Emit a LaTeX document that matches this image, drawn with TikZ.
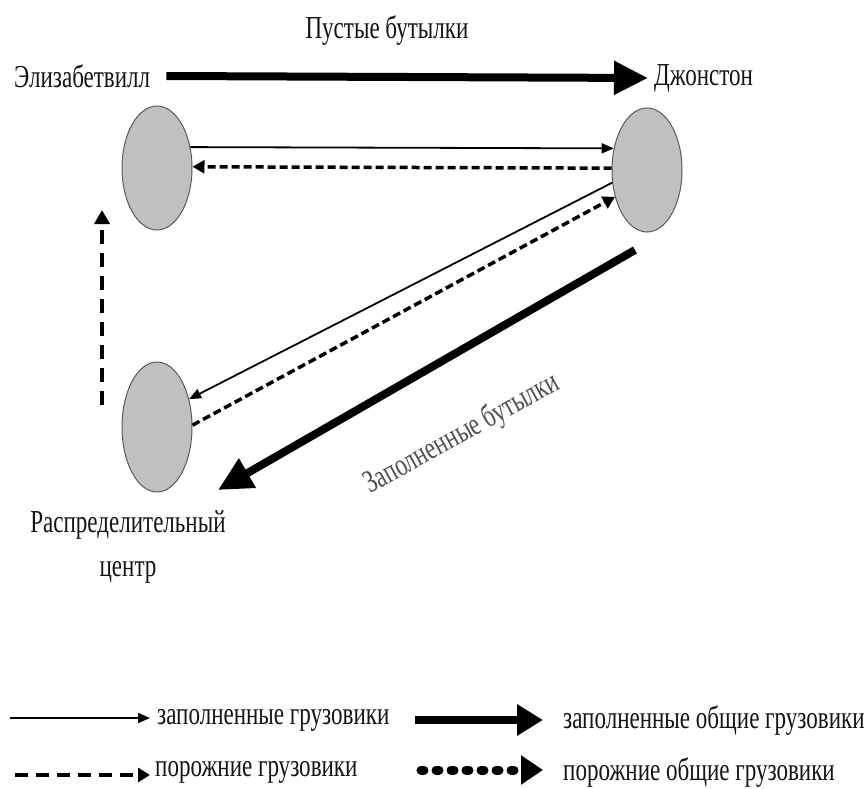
\documentclass[tikz,border=0pt]{standalone}
\usepackage{fontspec}
\setmainfont{Liberation Serif}[FakeStretch=0.72]
\usetikzlibrary{arrows.meta,shapes.geometric}
\definecolor{cfill}{RGB}{192,192,192}
\definecolor{cedge}{RGB}{90,90,90}
\definecolor{ctext}{RGB}{20,20,20}
\definecolor{cgray}{RGB}{80,80,80}
\tikzset{
  hub/.style={ellipse,draw=cedge,line width=1pt,fill=cfill,minimum width=70pt,minimum height=124pt,inner sep=0pt},
  lbl/.style={font=\fontsize{32}{44}\selectfont,text=ctext,inner sep=0pt},
  full/.style={line width=1.8pt,-{Triangle[length=12pt,width=10pt]}},
  empty/.style={line width=3.5pt,dash pattern=on 8pt off 4pt,-{Triangle[length=12pt,width=13pt]}},
  bigfull/.style={line width=8pt,-{Triangle[length=34pt,width=32pt]}},
  bigempty/.style={line width=4pt,dash pattern=on 14pt off 9pt,-{Triangle[length=14pt,width=15pt]}},
  legdash/.style={line width=4pt,dash pattern=on 13pt off 8pt,-{Triangle[length=12pt,width=14pt]}},
  legdot/.style={line width=9pt,line cap=round,dash pattern=on 3pt off 12pt,-{Triangle[length=22pt,width=28pt]}},
  legbig/.style={line width=8pt,-{Triangle[length=26pt,width=30pt]}}
}
\begin{document}
\begin{tikzpicture}[x=1pt,y=-1pt]
\useasboundingbox (0,0) rectangle (868,789);
\fill[white] (0,0) rectangle (868,789);

% hubs
\node[hub] (E) at (157,168) {};
\node[hub] (J) at (647,170) {};
\node[hub,minimum height=130pt] (D) at (157,427) {};

% labels
\node[lbl] (title) at (387,31) {Пустые бутылки};
\node[lbl,anchor=west] (Eliz) at (14,76) {Элизабетвилл};
\node[lbl,anchor=west] (Dzh) at (654,78) {Джонстон};
\node[lbl,align=center] (Dist) at (128,547) {Распределительный\\центр};
\node[lbl,text=cgray,rotate=29] (filled) at (462,434) {Заполненные бутылки};

% connectors
\draw[bigfull] ([xshift=16pt]Eliz.east) -- ([xshift=-6pt]Dzh.west);
\draw[full] (E.32) -- (J.147);
\draw[empty] (J.177) -- (E.2);
\draw[full] (J.200) -- (D.41);
\draw[empty] (D.3) -- (J.220);
\coordinate (bs) at (635,250);
\coordinate (be) at (218,490);
\draw[bigfull] (bs) -- (be);
\coordinate (vs) at (102,405);
\coordinate (ve) at (102,210);
\draw[bigempty] (vs) -- (ve);

% legend
\coordinate (l1s) at (10,718);
\coordinate (l1e) at (150,718);
\draw[full] (l1s) -- (l1e);
\node[lbl,anchor=west] (t1) at (157,720) {заполненные грузовики};
\coordinate (l2s) at (415,720);
\coordinate (l2e) at (543,720);
\draw[legbig] (l2s) -- (l2e);
\node[lbl,anchor=west] (t2) at (563,720) {заполненные общие грузовики};
\coordinate (l3s) at (15,775);
\coordinate (l3e) at (150,775);
\draw[legdash] (l3s) -- (l3e);
\node[lbl,anchor=west] (t3) at (155,772) {порожние грузовики};
\coordinate (l4s) at (421,770);
\coordinate (l4e) at (543,770);
\draw[legdot] (l4s) -- (l4e);
\node[lbl,anchor=west] (t4) at (563,772) {порожние общие грузовики};
\end{tikzpicture}
\end{document}
